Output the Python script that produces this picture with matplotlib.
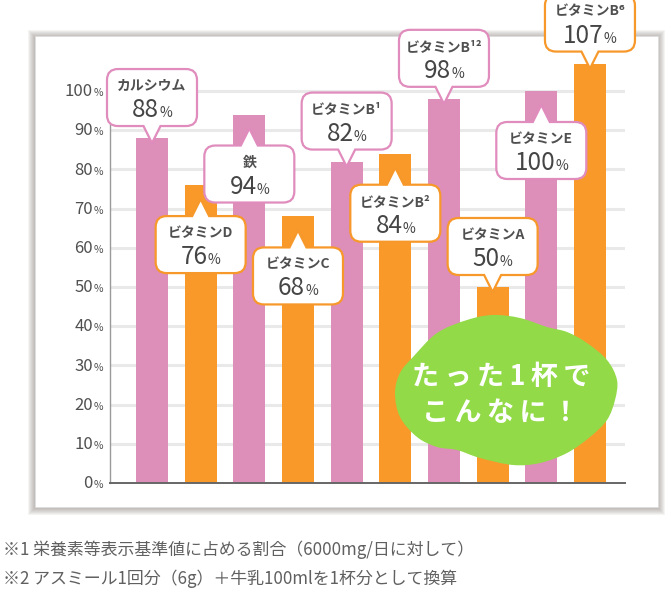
import matplotlib
matplotlib.use('Agg')
import matplotlib.pyplot as plt
import numpy as np
from matplotlib.path import Path
from matplotlib.patches import PathPatch, Rectangle
from matplotlib.transforms import Affine2D, ScaledTranslation
from matplotlib.offsetbox import TextArea, HPacker, AnnotationBbox

plt.rcParams['font.family'] = ['Noto Sans CJK JP', 'DejaVu Sans']

# data
names = ['カルシウム', 'ビタミンD', '鉄', 'ビタミンC', 'ビタミンB¹',
         'ビタミンB²', 'ビタミンB¹²', 'ビタミンA', 'ビタミンE', 'ビタミンB⁶']
values = [88, 76, 94, 68, 82, 84, 98, 50, 100, 107]
yticks = [0, 10, 20, 30, 40, 50, 60, 70, 80, 90, 100]
blob_lines = ['たった1杯で', 'こんなに！']
notes = ['※1 栄養素等表示基準値に占める割合（6000mg/日に対して）',
         '※2 アスミール1回分（6g）＋牛乳100mlを1杯分として換算']

# styling
PINK = '#DD8EB9'
ORANGE = '#F8992A'
PINK_EDGE = '#E08CBD'
ORANGE_EDGE = '#F7982B'
GREEN = '#93DA48'
TXT = '#454545'
sides = ['down', 'up', 'up', 'up', 'down', 'up', 'down', 'down', 'up', 'down']

W, H = 670, 590
fig = plt.figure(figsize=(W / 100, H / 100), dpi=100)


def fx(px):
    return px / W


def fy(py):
    return 1 - py / H


# card with soft shadow
cx0, cy0, cx1, cy1 = 35, 36, 658, 507
for k in range(7, 0, -1):
    fig.add_artist(Rectangle((fx(cx0 - k), fy(cy1 + k + 1)), fx(cx1 - cx0 + 2 * k), (cy1 - cy0 + 2 * k) / H,
                             transform=fig.transFigure, facecolor='#6e645c', edgecolor='none',
                             alpha=0.07, zorder=-3))
fig.add_artist(Rectangle((fx(cx0), fy(cy1)), fx(cx1 - cx0), (cy1 - cy0) / H,
                         transform=fig.transFigure, facecolor='white', edgecolor='#dddddd',
                         lw=0.6, zorder=-2))

ax = fig.add_axes([fx(110), fy(483), fx(625 - 110), 431.2 / H])
ax.patch.set_alpha(0)
x = np.arange(len(values))
ax.set_xlim(-0.863, 9.72)
ax.set_ylim(0, 110)

ax.hlines(yticks[1:], -0.863, 9.72, color='#e9e9e9', lw=2.2, zorder=0.5)
colors = [PINK if i % 2 == 0 else ORANGE for i in x]
ax.bar(x, values, width=0.66, color=colors, zorder=2)

for s in ['top', 'right']:
    ax.spines[s].set_visible(False)
ax.spines['left'].set_bounds(0, 100)
ax.spines['left'].set_color('#9a9a9a')
ax.spines['left'].set_linewidth(1)
ax.spines['bottom'].set_color('#666666')
ax.spines['bottom'].set_linewidth(1.4)
ax.spines['bottom'].set_zorder(3)
ax.set_xticks([])
ax.set_yticks([])

# y tick labels: number + small %
for t in yticks:
    pk = HPacker(children=[TextArea(str(t), textprops=dict(size=12, color='#505050')),
                           TextArea('%', textprops=dict(size=7.5, color='#505050'))],
                 align='baseline', pad=0, sep=0.5)
    ab = AnnotationBbox(pk, (0, t), xycoords=ax.get_yaxis_transform(),
                        xybox=(-7 * 0.72, -0.5), boxcoords='offset points',
                        box_alignment=(1, 0.5), frameon=False, annotation_clip=False)
    ax.add_artist(ab)


def callout_path(side, tipoff, w=90, h=57, r=11, plen=17, pw=8.5):
    x0, x1 = -w / 2, w / 2
    tip = -tipoff
    if side == 'down':
        y0, y1 = tip + plen, tip + plen + h
    else:
        y0, y1 = tip - plen - h, tip - plen
    v, c = [], []
    v.append((x0 + r, y0)); c.append(Path.MOVETO)
    if side == 'down':
        v += [(-pw, y0), (0, tip), (pw, y0)]; c += [Path.LINETO] * 3
    v += [(x1 - r, y0), (x1, y0), (x1, y0 + r)]; c += [Path.LINETO, Path.CURVE3, Path.CURVE3]
    v += [(x1, y1 - r), (x1, y1), (x1 - r, y1)]; c += [Path.LINETO, Path.CURVE3, Path.CURVE3]
    if side == 'up':
        v += [(pw, y1), (0, tip), (-pw, y1)]; c += [Path.LINETO] * 3
    v += [(x0 + r, y1), (x0, y1), (x0, y1 - r)]; c += [Path.LINETO, Path.CURVE3, Path.CURVE3]
    v += [(x0, y0 + r), (x0, y0), (x0 + r, y0)]; c += [Path.LINETO, Path.CURVE3, Path.CURVE3]
    v.append((x0 + r, y0)); c.append(Path.CLOSEPOLY)
    return Path(v, c), y1


for i, (name, val, side) in enumerate(zip(names, values, sides)):
    tipoff = 5 if side == 'down' else 14
    path, top = callout_path(side, tipoff)
    trans = Affine2D().scale(0.01) + fig.dpi_scale_trans + ScaledTranslation(i, val, ax.transData)
    ec = PINK_EDGE if i % 2 == 0 else ORANGE_EDGE
    ax.add_artist(PathPatch(path, transform=trans, facecolor='white', edgecolor=ec,
                            lw=1.6, zorder=4, clip_on=False))
    ax.annotate(name, (i, val), xytext=(0, top - 17), textcoords='offset pixels',
                ha='center', va='center', size=10, weight='bold', color='#505050',
                zorder=5, annotation_clip=False)
    pk = HPacker(children=[TextArea(str(val), textprops=dict(size=17.5, color=TXT)),
                           TextArea('%', textprops=dict(size=10, color=TXT))],
                 align='baseline', pad=0, sep=0)
    ab = AnnotationBbox(pk, (i, val), xycoords='data',
                        xybox=(0, (top - 41) * 0.72), boxcoords='offset points',
                        box_alignment=(0.5, 0.5), frameon=False, annotation_clip=False)
    ab.set_zorder(5)
    ax.add_artist(ab)

# green blob
pts = np.array([(493, 315), (520, 318), (547, 327), (567, 332), (587, 343), (607, 360),
                (617, 380), (615, 400), (607, 420), (590, 437), (567, 453), (540, 463),
                (513, 465), (480, 458), (457, 450), (437, 447), (417, 437), (400, 417),
                (395, 393), (400, 373), (413, 357), (437, 333), (467, 320)], dtype=float)
n = len(pts)
verts = [pts[0]]
codes = [Path.MOVETO]
for k in range(n):
    p0, p1, p2, p3 = pts[k - 1], pts[k], pts[(k + 1) % n], pts[(k + 2) % n]
    verts += [p1 + (p2 - p0) / 6, p2 - (p3 - p1) / 6, p2]
    codes += [Path.CURVE4] * 3
verts = [(fx(a), fy(b)) for a, b in verts]
fig.add_artist(PathPatch(Path(verts, codes), transform=fig.transFigure,
                         facecolor=GREEN, edgecolor='none', zorder=5))
for line, py in zip(blob_lines, [377, 413]):
    fig.text(fx(501), fy(py), '\u2009'.join(line), ha='center', va='center', color='white',
             size=19.5, weight='bold', zorder=6)

# footnotes
fig.text(fx(3), fy(550), notes[0], ha='left', va='center', size=12.2, color='#606060')
fig.text(fx(3), fy(579), notes[1], ha='left', va='center', size=12.2, color='#606060')

fig.savefig('out.png', dpi=100, facecolor='white')
